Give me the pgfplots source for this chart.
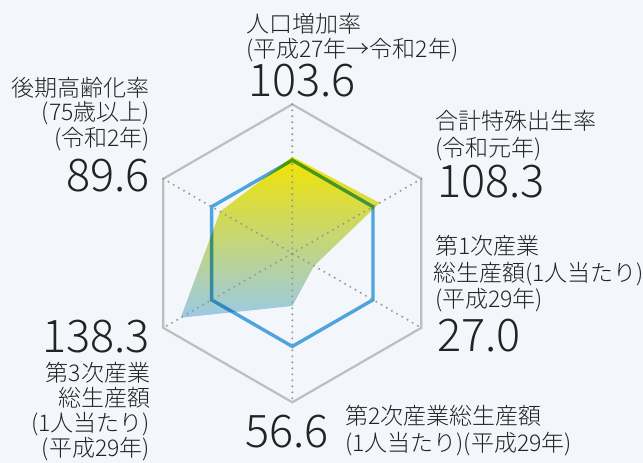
\documentclass[border=0pt]{standalone}
\usepackage{pgfplots}
\pgfplotsset{compat=1.18}
\usepgfplotslibrary{polar}
\usepackage{fontspec}
\setmainfont{Noto Sans CJK JP Light}
\definecolor{bg}{RGB}{243,247,251}
\definecolor{frame}{RGB}{190,190,190}
\definecolor{spoke}{RGB}{150,150,150}
\definecolor{refblue}{RGB}{78,165,222}
\definecolor{fyellow}{RGB}{255,236,0}
\definecolor{fmid}{RGB}{236,233,150}
\definecolor{fblue}{RGB}{162,208,236}
\definecolor{txt}{RGB}{35,35,35}
\newcommand\lab{\fontsize{23}{27}\selectfont}
\newcommand\num{\fontsize{45}{45}\selectfont}
\begin{document}
\begin{tikzpicture}[x=1pt,y=1pt]
\fill[bg] (0,0) rectangle (643,463);
\useasboundingbox (0,0) rectangle (643,463);
\begin{polaraxis}[
  at={(292.3pt,209.7pt)}, anchor=center,
  scale only axis, width=298pt, height=298pt,
  ymin=0, ymax=160, hide axis, clip=false,
]
\addplot[frame, line width=2.2pt, line join=miter] coordinates {(90,160)(30,160)(-30,160)(-90,160)(210,160)(150,160)} -- cycle;
\addplot[refblue, line width=3.4pt, line join=miter] coordinates {(90,100)(30,100)(-30,100)(-90,100)(210,100)(150,100)} -- cycle;
\addplot[draw=none, top color=fyellow, middle color=fmid, bottom color=fblue, blend mode=multiply] coordinates {(90,103.6)(30,108.3)(-30,27.0)(-90,56.6)(210,138.3)(150,89.6)} -- cycle;
\addplot[spoke, line width=2.2pt, line cap=round, dash pattern=on 0pt off 6pt] coordinates {(90,160)(0,0)(-90,160)};
\addplot[spoke, line width=2.2pt, line cap=round, dash pattern=on 0pt off 6pt] coordinates {(30,160)(0,0)(210,160)};
\addplot[spoke, line width=2.2pt, line cap=round, dash pattern=on 0pt off 6pt] coordinates {(150,160)(0,0)(-30,160)};
\end{polaraxis}
\begin{scope}[every node/.style={inner sep=0pt, outer sep=0pt, text=txt}]
% top
\node[anchor=base west] at (246,430) {\lab 人口増加率};
\node[anchor=base west] at (246,405) {\lab (平成27年→令和2年)};
\node[anchor=base west] at (248,366) {\num 103.6};
% upper right
\node[anchor=base west] at (435,333) {\lab 合計特殊出生率};
\node[anchor=base west] at (435,306) {\lab (令和元年)};
\node[anchor=base west] at (437,265) {\num 108.3};
% right
\node[anchor=base west] at (435,208) {\lab 第1次産業};
\node[anchor=base west] at (433,181) {\lab 総生産額(1人当たり)};
\node[anchor=base west] at (435,155) {\lab (平成29年)};
\node[anchor=base west] at (437,111) {\num 27.0};
% bottom
\node[anchor=base west] at (245,15) {\num 56.6};
\node[anchor=base west] at (345,38) {\lab 第2次産業総生産額};
\node[anchor=base west] at (345,11) {\lab (1人当たり)(平成29年)};
% upper left
\node[anchor=base east] at (150,366) {\lab 後期高齢化率};
\node[anchor=base east] at (150,342) {\lab (75歳以上)};
\node[anchor=base east] at (150,316) {\lab (令和2年)};
\node[anchor=base east] at (150,271) {\num 89.6};
% lower left
\node[anchor=base east] at (150,110) {\num 138.3};
\node[anchor=base east] at (150,81) {\lab 第3次産業};
\node[anchor=base east] at (150,56) {\lab 総生産額};
\node[anchor=base east] at (150,31) {\lab (1人当たり)};
\node[anchor=base east] at (150,6) {\lab (平成29年)};
\end{scope}
\end{tikzpicture}
\end{document}
